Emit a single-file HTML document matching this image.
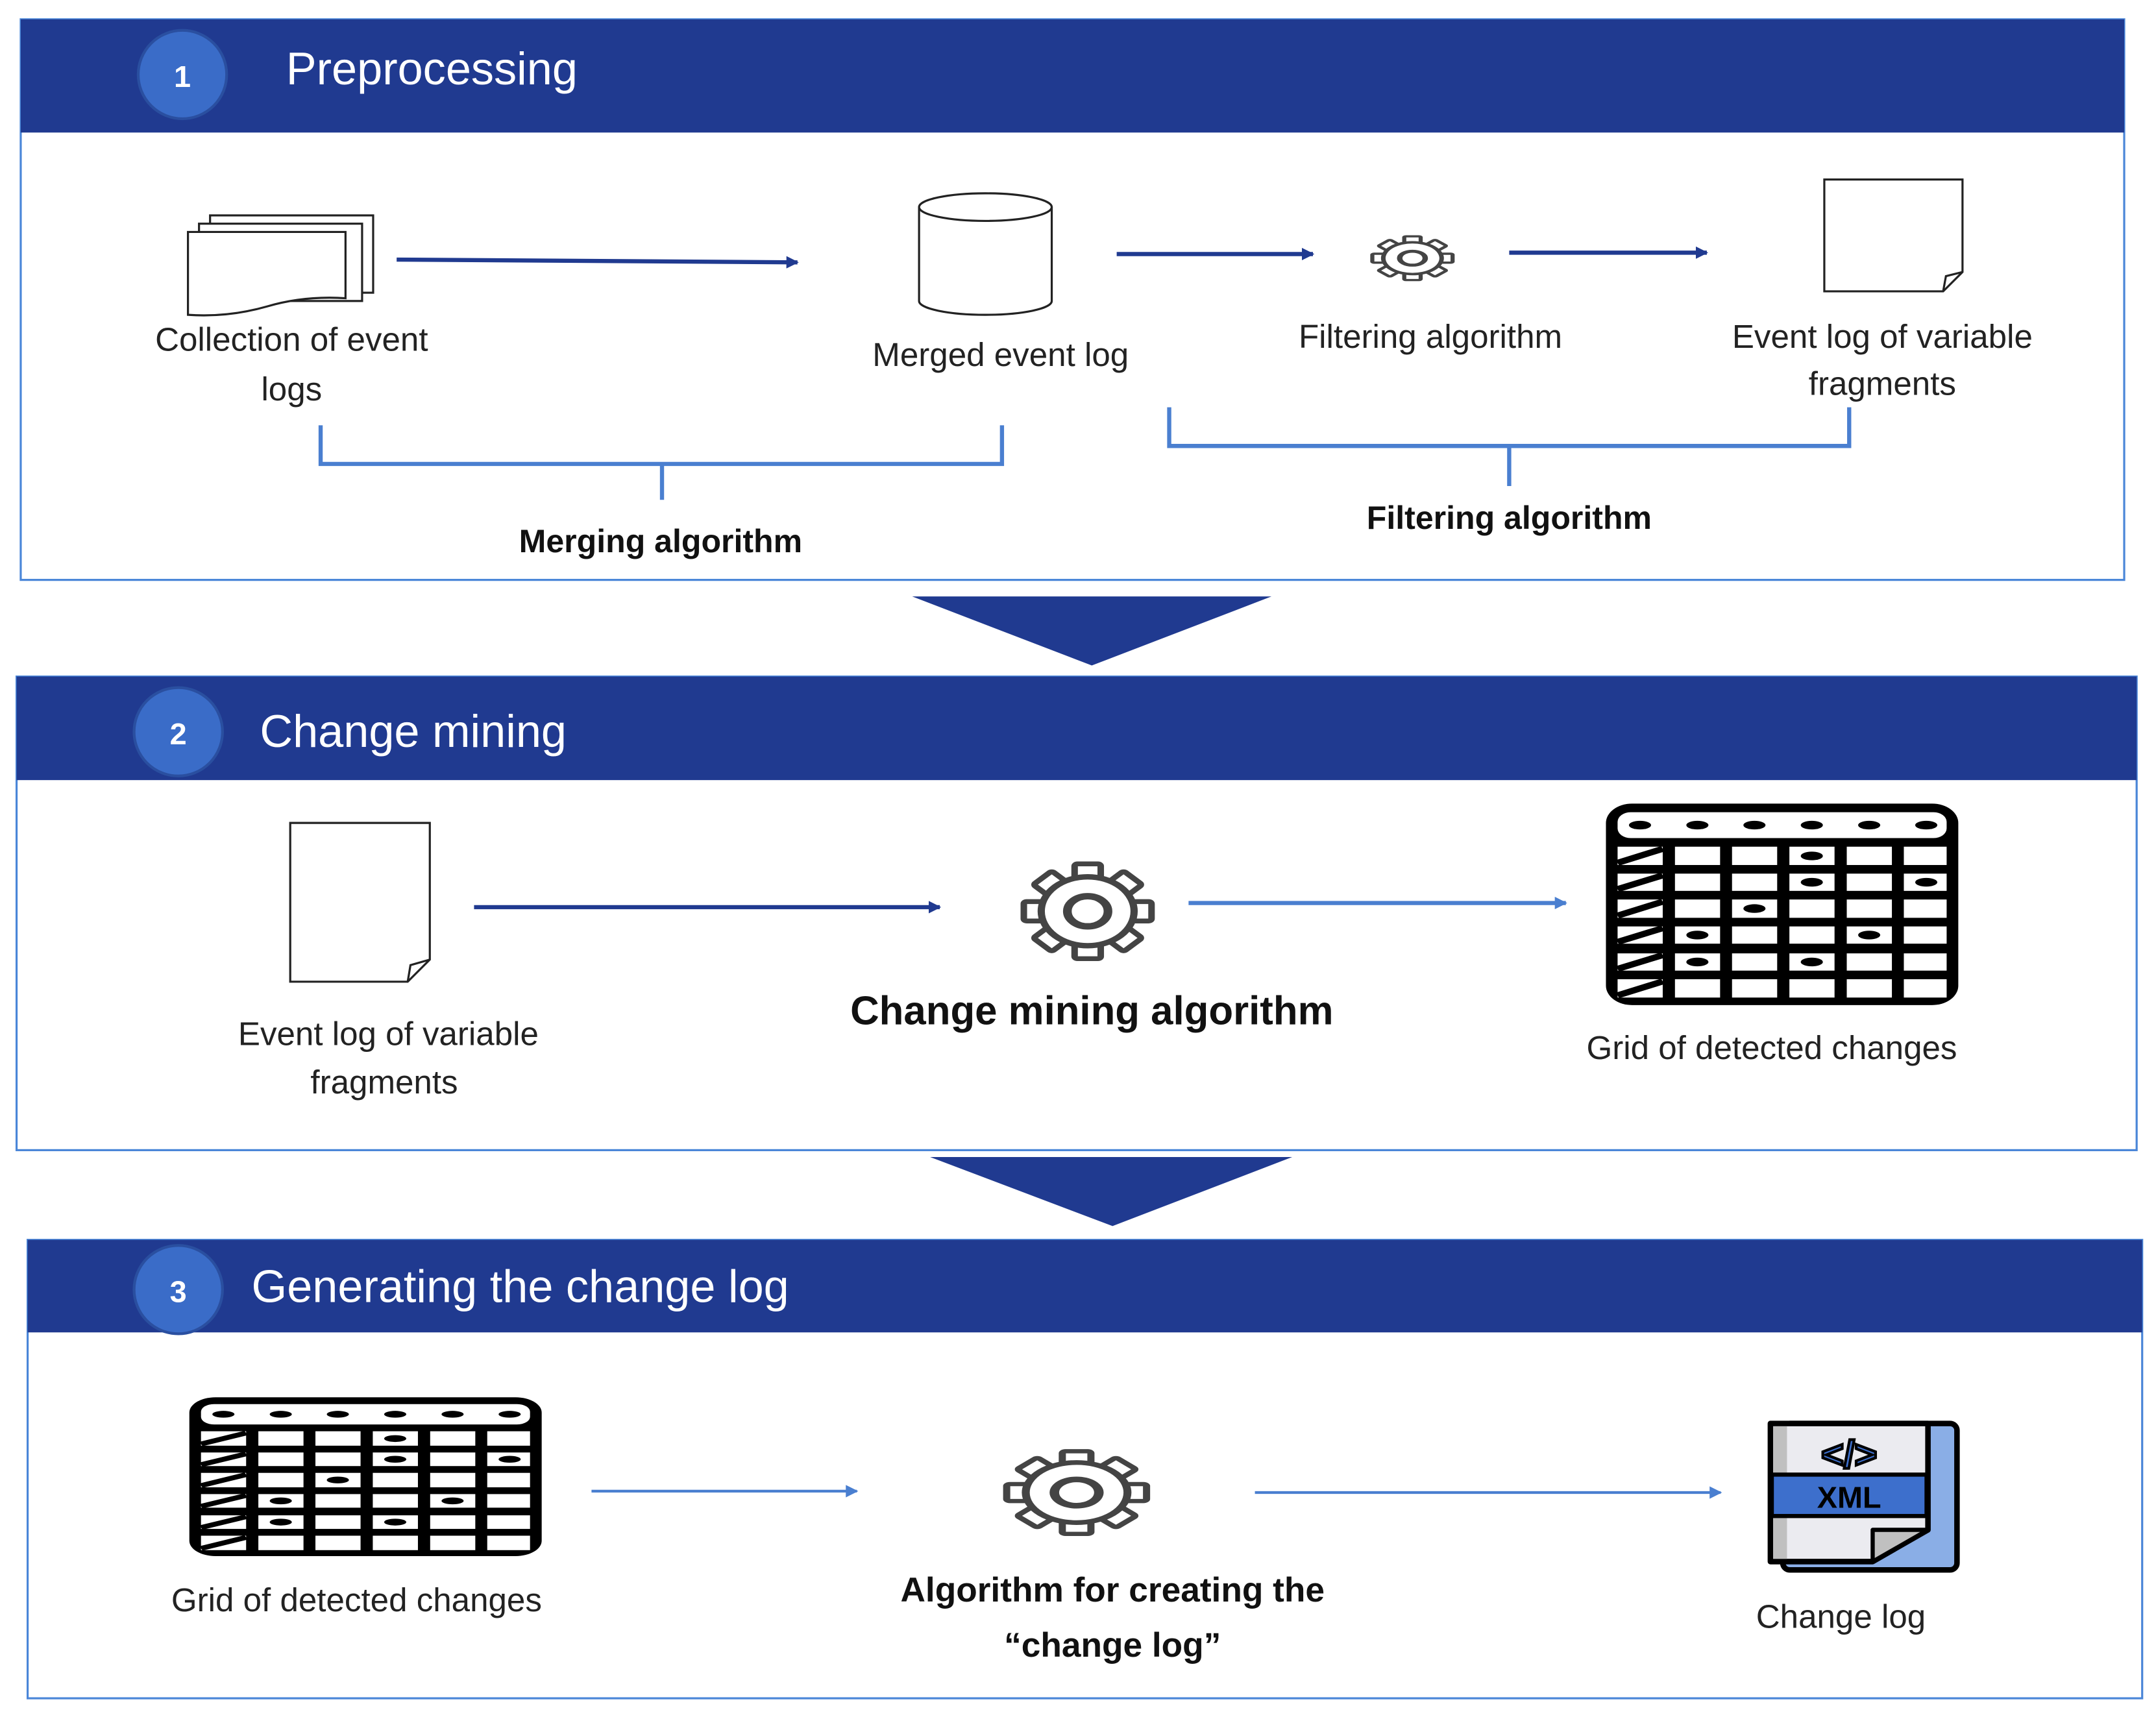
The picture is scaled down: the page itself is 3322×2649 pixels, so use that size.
<!DOCTYPE html>
<html><head><meta charset="utf-8"><style>
html,body{margin:0;padding:0;background:#fff;}
svg{display:block;}
text{font-family:"Liberation Sans",sans-serif;}
</style></head><body>
<svg width="3322" height="2649" viewBox="0 0 1560 1245" preserveAspectRatio="none" xmlns="http://www.w3.org/2000/svg">
<defs>
<marker id="ah" markerWidth="9" markerHeight="9" refX="8" refY="4.5" orient="auto" markerUnits="userSpaceOnUse"><path d="M0,0 L9,4.5 L0,9 z" fill="#203a90"/></marker>
<marker id="ah2" markerWidth="9" markerHeight="9" refX="8" refY="4.5" orient="auto" markerUnits="userSpaceOnUse"><path d="M0,0 L9,4.5 L0,9 z" fill="#4a7fd0"/></marker>
<g id="grid">
<rect x="0" y="0" width="1210" height="935" rx="90" fill="#000"/>
<rect x="40" y="40" width="1130" height="120" rx="45" fill="#fff"/>
<g fill="#fff">
<rect x="40" y="200" width="155" height="85"/><rect x="237" y="200" width="155" height="85"/><rect x="433" y="200" width="155" height="85"/><rect x="630" y="200" width="155" height="85"/><rect x="827" y="200" width="155" height="85"/><rect x="1023" y="200" width="147" height="85"/>
<rect x="40" y="325" width="155" height="80"/><rect x="237" y="325" width="155" height="80"/><rect x="433" y="325" width="155" height="80"/><rect x="630" y="325" width="155" height="80"/><rect x="827" y="325" width="155" height="80"/><rect x="1023" y="325" width="147" height="80"/>
<rect x="40" y="445" width="155" height="85"/><rect x="237" y="445" width="155" height="85"/><rect x="433" y="445" width="155" height="85"/><rect x="630" y="445" width="155" height="85"/><rect x="827" y="445" width="155" height="85"/><rect x="1023" y="445" width="147" height="85"/>
<rect x="40" y="570" width="155" height="80"/><rect x="237" y="570" width="155" height="80"/><rect x="433" y="570" width="155" height="80"/><rect x="630" y="570" width="155" height="80"/><rect x="827" y="570" width="155" height="80"/><rect x="1023" y="570" width="147" height="80"/>
<rect x="40" y="695" width="155" height="80"/><rect x="237" y="695" width="155" height="80"/><rect x="433" y="695" width="155" height="80"/><rect x="630" y="695" width="155" height="80"/><rect x="827" y="695" width="155" height="80"/><rect x="1023" y="695" width="147" height="80"/>
<rect x="40" y="815" width="155" height="85"/><rect x="237" y="815" width="155" height="85"/><rect x="433" y="815" width="155" height="85"/><rect x="630" y="815" width="155" height="85"/><rect x="827" y="815" width="155" height="85"/><rect x="1023" y="815" width="147" height="85"/>
</g>
<g stroke="#000" stroke-width="28">
<line x1="40" y1="275" x2="195" y2="210"/><line x1="40" y1="397" x2="195" y2="333"/><line x1="40" y1="520" x2="195" y2="455"/><line x1="40" y1="642" x2="195" y2="578"/><line x1="40" y1="767" x2="195" y2="703"/><line x1="40" y1="890" x2="195" y2="825"/>
</g>
<g fill="#000">
<ellipse cx="117" cy="100" rx="38" ry="20"/><ellipse cx="314" cy="100" rx="38" ry="20"/><ellipse cx="510" cy="100" rx="38" ry="20"/><ellipse cx="707" cy="100" rx="38" ry="20"/><ellipse cx="904" cy="100" rx="38" ry="20"/><ellipse cx="1100" cy="100" rx="38" ry="20"/>
<ellipse cx="707" cy="243" rx="38" ry="20"/>
<ellipse cx="707" cy="365" rx="38" ry="20"/><ellipse cx="1100" cy="365" rx="38" ry="20"/>
<ellipse cx="510" cy="487" rx="38" ry="20"/>
<ellipse cx="314" cy="610" rx="38" ry="20"/><ellipse cx="904" cy="610" rx="38" ry="20"/>
<ellipse cx="314" cy="735" rx="38" ry="20"/><ellipse cx="707" cy="735" rx="38" ry="20"/>
</g>
</g>
<rect id="tooth" x="-9" y="-44" width="18" height="18" rx="2" fill="#fff" stroke="#444" stroke-width="4.5"/>
<g id="gear">
<use href="#tooth"/>
<use href="#tooth" transform="rotate(45)"/>
<use href="#tooth" transform="rotate(90)"/>
<use href="#tooth" transform="rotate(135)"/>
<use href="#tooth" transform="rotate(180)"/>
<use href="#tooth" transform="rotate(225)"/>
<use href="#tooth" transform="rotate(270)"/>
<use href="#tooth" transform="rotate(315)"/>
<circle r="32" fill="#fff" stroke="#444" stroke-width="5"/>
<circle r="28" fill="#fff"/>
<circle r="14" fill="#fff" stroke="#444" stroke-width="6"/>
</g>
</defs>

<!-- Panel 1 -->
<rect x="15" y="14" width="1522" height="406" fill="#fff" stroke="#4a86d8" stroke-width="1.5"/>
<rect x="15" y="14" width="1522" height="82" fill="#203a90"/>
<circle cx="132" cy="54" r="32" fill="#3a6cc8" stroke="#2a4fa0" stroke-width="2"/>
<text x="132" y="63" font-size="22" font-weight="bold" fill="#fff" text-anchor="middle">1</text>
<text x="207" y="61" font-size="33" fill="#fff">Preprocessing</text>

<g fill="#fff" stroke="#222" stroke-width="1.5">
<rect x="152" y="156" width="118" height="56"/>
<rect x="144" y="162" width="118" height="56"/>
<path d="M136,168 H250 V216 Q220,214 193,222 Q165,230 136,228 Z"/>
</g>
<line x1="287" y1="188" x2="577" y2="190" stroke="#203a90" stroke-width="3" marker-end="url(#ah)"/>
<path d="M665,150 V218 A48,10 0 0 0 761,218 V150" fill="#fff" stroke="#222" stroke-width="1.5"/>
<ellipse cx="713" cy="150" rx="48" ry="10" fill="#fff" stroke="#222" stroke-width="1.5"/>
<line x1="808" y1="184" x2="950" y2="184" stroke="#203a90" stroke-width="3" marker-end="url(#ah)"/>
<use href="#gear" transform="translate(1022,187) scale(0.66,0.36)"/>
<line x1="1092" y1="183" x2="1235" y2="183" stroke="#203a90" stroke-width="3" marker-end="url(#ah)"/>
<path d="M1320,130 H1420 V197 L1406,211 H1320 Z" fill="#fff" stroke="#222" stroke-width="1.5"/>
<path d="M1406,211 L1408,200 L1420,197" fill="none" stroke="#222" stroke-width="1.5"/>

<g font-size="24" fill="#222" text-anchor="middle">
<text x="211" y="254">Collection of event</text>
<text x="211" y="290">logs</text>
<text x="724" y="265">Merged event log</text>
<text x="1035" y="252">Filtering algorithm</text>
<text x="1362" y="252">Event log of variable</text>
<text x="1362" y="286">fragments</text>
</g>
<path d="M232,308 V336 H479 V362 M479,336 H725 V308" fill="none" stroke="#4a7fd0" stroke-width="3"/>
<path d="M846,295 V323 H1092 V352 M1092,323 H1338 V295" fill="none" stroke="#4a7fd0" stroke-width="3"/>
<g font-size="23.5" font-weight="bold" fill="#111" text-anchor="middle">
<text x="478" y="400">Merging algorithm</text>
<text x="1092" y="383">Filtering algorithm</text>
</g>

<polygon points="660,432 920,432 790,482" fill="#203a90"/>

<!-- Panel 2 -->
<rect x="12" y="490" width="1534" height="343" fill="#fff" stroke="#4a86d8" stroke-width="1.5"/>
<rect x="12" y="490" width="1534" height="75" fill="#203a90"/>
<circle cx="129" cy="530" r="32" fill="#3a6cc8" stroke="#2a4fa0" stroke-width="2"/>
<text x="129" y="539" font-size="22" font-weight="bold" fill="#fff" text-anchor="middle">2</text>
<text x="188" y="541" font-size="33" fill="#fff">Change mining</text>

<path d="M210,596 H311 V695 L295,711 H210 Z" fill="#fff" stroke="#222" stroke-width="1.5"/>
<path d="M295,711 L297,699 L311,695" fill="none" stroke="#222" stroke-width="1.5"/>
<line x1="343" y1="657" x2="680" y2="657" stroke="#203a90" stroke-width="3" marker-end="url(#ah)"/>
<use href="#gear" transform="translate(787,660) scale(1.05,0.78)"/>
<line x1="860" y1="654" x2="1133" y2="654" stroke="#4a7fd0" stroke-width="3" marker-end="url(#ah2)"/>
<use href="#grid" transform="translate(1162,582) scale(0.2107,0.1561)"/>
<g font-size="24" fill="#222" text-anchor="middle">
<text x="281" y="757">Event log of variable</text>
<text x="278" y="792">fragments</text>
<text x="1282" y="767">Grid of detected changes</text>
</g>
<text x="790" y="742" font-size="29" font-weight="bold" fill="#111" text-anchor="middle">Change mining algorithm</text>

<polygon points="673,838 935,838 805,888" fill="#203a90"/>

<!-- Panel 3 -->
<rect x="20" y="898" width="1530" height="332" fill="#fff" stroke="#4a86d8" stroke-width="1.5"/>
<rect x="20" y="898" width="1530" height="67" fill="#203a90"/>
<circle cx="129" cy="934" r="32" fill="#3a6cc8" stroke="#2a4fa0" stroke-width="2"/>
<text x="129" y="943" font-size="22" font-weight="bold" fill="#fff" text-anchor="middle">3</text>
<text x="182" y="943" font-size="33" fill="#fff">Generating the change log</text>

<use href="#grid" transform="translate(137,1012) scale(0.2107,0.123)"/>
<line x1="428" y1="1080" x2="620" y2="1080" stroke="#4a7fd0" stroke-width="2" marker-end="url(#ah2)"/>
<use href="#gear" transform="translate(779,1081) scale(1.15,0.68)"/>
<line x1="908" y1="1081" x2="1245" y2="1081" stroke="#4a7fd0" stroke-width="2" marker-end="url(#ah2)"/>
<g>
<rect x="1290" y="1031" width="126" height="106" rx="5" fill="#8aaee6" stroke="#000" stroke-width="4"/>
<path d="M1281,1031 H1395 V1108 L1355,1131 H1281 Z" fill="#ebebf0" stroke="#000" stroke-width="4" stroke-linejoin="round"/>
<rect x="1283" y="1033" width="10" height="96" fill="#c0c0c0"/>
<rect x="1282" y="1068" width="112" height="30" fill="#3d6fcc" stroke="#000" stroke-width="3"/>
<text x="1338" y="1092" font-size="22" font-weight="bold" fill="#000" text-anchor="middle">XML</text>
<text x="1338" y="1063" font-size="28" font-weight="bold" fill="#3d6fcc" stroke="#000" stroke-width="2" text-anchor="middle">&lt;/&gt;</text>
<path d="M1355,1131 V1108 H1395 Z" fill="#c0c0c0" stroke="#000" stroke-width="3" stroke-linejoin="round"/>
</g>
<g font-size="24" fill="#222" text-anchor="middle">
<text x="258" y="1167">Grid of detected changes</text>
<text x="1332" y="1179">Change log</text>
</g>
<g font-size="25" font-weight="bold" fill="#111" text-anchor="middle">
<text x="805" y="1160">Algorithm for creating the</text>
<text x="805" y="1200">“change log”</text>
</g>
</svg>
</body></html>
